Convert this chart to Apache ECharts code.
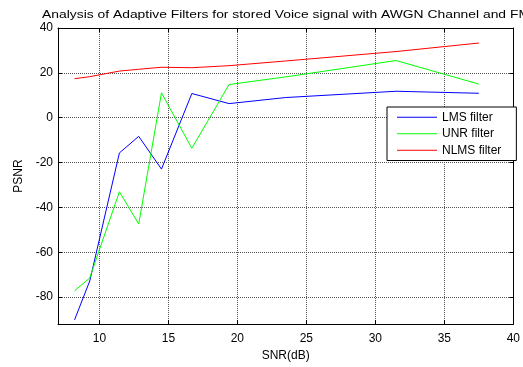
<!DOCTYPE html>
<html>
<head>
<meta charset="utf-8">
<script src="https://cdn.jsdelivr.net/npm/echarts@6/dist/echarts.min.js"></script>
<style>html,body{margin:0;padding:0;background:#fff;}#c{width:523px;height:367px;}</style>
</head>
<body>
<div id="c"></div>
<script>
const titleText = "Analysis of Adaptive Filters for stored Voice signal with AWGN Channel and FM";
const xName = "SNR(dB)";
const yName = "PSNR";
const seriesNames = ["LMS filter", "UNR filter", "NLMS filter"];
const seriesColors = ['#0000ff', '#00ff00', '#ff0000'];
const snr  = [8.2, 9.3, 11.45, 12.85, 14.5, 16.7, 19.4, 23.5, 31.5, 37.5];
const lms  = [-90.1, -72.8, -15.7, -8.3, -22.9, 10.8, 6.3, 9.0, 11.8, 10.9];
const unr  = [-77.2, -71.4, -33.0, -47.4, 11.1, -13.6, 14.8, 18.2, 25.5, 15.0];
const nlms = [17.4, 18.3, 20.8, 21.6, 22.5, 22.3, 23.2, 25.3, 29.5, 33.3];
const xMin = 7, xMax = 40, yMin = -92, yMax = 40;

const pairs = v => snr.map((x, i) => [x, v[i]]);
const font = 'Liberation Sans, Arial, sans-serif';
const chart = echarts.init(document.getElementById('c'), null, {renderer: 'canvas'});
const axisCommon = {
  axisLine: {show: true, onZero: false, lineStyle: {color: '#000', width: 1}},
  axisTick: {show: true, inside: true, length: 4, lineStyle: {color: '#000'}},
};
chart.setOption({
  animation: false,
  backgroundColor: '#fff',
  graphic: [{
    type: 'text', x: 286, y: 15, scaleX: 1.26,
    style: {text: titleText, x: 0, y: 0, align: 'center', verticalAlign: 'middle',
            font: '11px Liberation Sans, Arial, sans-serif', fill: '#000'}
  }],
  grid: {left: 58, right: 8, top: 28, bottom: 34},
  legend: {
    orient: 'vertical', left: 387, top: 107,
    data: seriesNames.map((n, i) => ({name: n, icon: 'rect', itemStyle: {color: seriesColors[i]}})),
    itemWidth: 40, itemHeight: 1, itemGap: 0,
    padding: [2, 15, 2, 10],
    backgroundColor: '#fff', borderColor: '#000', borderWidth: 1,
    textStyle: {fontFamily: font, fontSize: 12, color: '#000', lineHeight: 16.5}
  },
  xAxis: [{
    type: 'value', min: xMin, max: xMax, splitNumber: 7,
    name: xName, nameLocation: 'middle', nameGap: 25,
    nameTextStyle: {fontFamily: font, fontSize: 12, color: '#000'},
    ...axisCommon,
    axisLabel: {showMinLabel: false, margin: 9, fontFamily: font, fontSize: 12, color: '#000'},
    splitLine: {show: true, lineStyle: {color: '#555', type: 'dotted', width: 1}}
  }, {
    type: 'value', position: 'top', min: xMin, max: xMax, splitNumber: 7,
    ...axisCommon, axisLabel: {show: false}, splitLine: {show: false}
  }],
  yAxis: [{
    type: 'value', min: yMin, max: yMax, splitNumber: 7,
    name: yName, nameLocation: 'middle', nameGap: 33,
    nameTextStyle: {fontFamily: font, fontSize: 12, color: '#000'},
    ...axisCommon,
    axisLabel: {showMinLabel: false, margin: 5, fontFamily: font, fontSize: 12, color: '#000'},
    splitLine: {show: true, lineStyle: {color: '#555', type: 'dotted', width: 1}}
  }, {
    type: 'value', position: 'right', min: yMin, max: yMax, splitNumber: 7,
    ...axisCommon, axisLabel: {show: false}, splitLine: {show: false}
  }],
  series: [
    {name: seriesNames[0], type: 'line', data: pairs(lms), symbol: 'none', color: seriesColors[0], lineStyle: {width: 1}},
    {name: seriesNames[1], type: 'line', data: pairs(unr), symbol: 'none', color: seriesColors[1], lineStyle: {width: 1}},
    {name: seriesNames[2], type: 'line', data: pairs(nlms), symbol: 'none', color: seriesColors[2], lineStyle: {width: 1}}
  ]
});
</script>
</body>
</html>
